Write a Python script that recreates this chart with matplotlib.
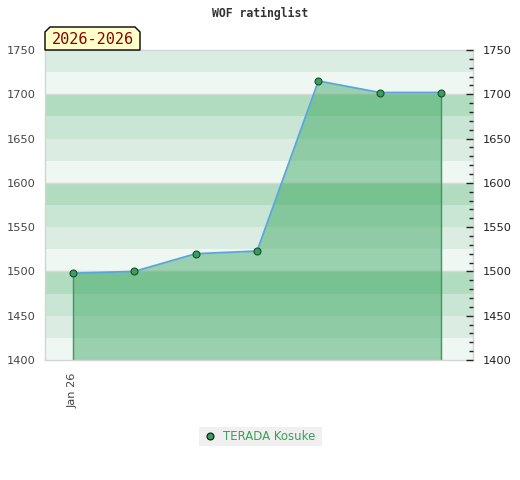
import matplotlib
matplotlib.use("Agg")
import matplotlib.pyplot as plt
from matplotlib.patches import Polygon, Rectangle
from matplotlib.ticker import MultipleLocator

# data
labels = ["Jan 26", "", "", "", "", "", ""]
x_vals = [0, 1, 2, 3, 4, 5, 6]
ratings = [1498, 1500, 1520, 1523, 1715, 1702, 1702]
player = "TERADA Kosuke"
title = "WOF ratinglist"
period = "2026-2026"
y_min, y_max = 1400, 1750

band_colors = ["#b2dcc0", "#c8e6d3", "#dbede2", "#eef7f1"]  # from top of each hundred downward

fig = plt.figure(figsize=(5.2, 4.8), dpi=100)
L, R, T, B = 45 / 520, 473 / 520, 1 - 50 / 480, 1 - 360 / 480
ax = fig.add_axes([L, B, R - L, T - B])
ax.set_xlim(-0.457, 6.52)
ax.set_ylim(y_min, y_max)

# bands
for lo in range(y_min, y_max, 25):
    idx = (3 - ((lo % 100) // 25)) % 4
    ax.axhspan(lo, lo + 25, color=band_colors[idx], lw=0, zorder=0)
for yy in range(y_min + 100, y_max, 100):
    ax.axhline(yy, color="#d8d8d8", lw=1, zorder=0.5)

fill_c = (46 / 255, 160 / 255, 87 / 255)
ax.fill_between(x_vals, ratings, y_min, color=fill_c, alpha=0.44, lw=0, zorder=1)
ax.vlines([x_vals[0], x_vals[-1]], y_min, [ratings[0], ratings[-1]], color="#3a9a5a", lw=1, zorder=2)
ax.plot(x_vals, ratings, color="#5aa5dc", lw=1.3, zorder=3)
ax.plot(x_vals, ratings, "o", ms=5, mfc="#3a9e5c", mec="#1b4d2c", mew=0.8, zorder=4)

for s in ax.spines.values():
    s.set_color("#d4d4d4")
    s.set_linewidth(1)

ax.set_yticks(range(y_min, y_max + 1, 50))
ax.tick_params(axis="y", left=False, length=0, labelsize=8.2, labelcolor="#444444", pad=7)
ax.set_xticks([x_vals[0]])
ax.set_xticklabels([labels[0]], rotation=90, fontsize=8.2, color="#444444")
ax.tick_params(axis="x", bottom=False, length=0, pad=9)

ax2 = ax.twinx()
ax2.set_ylim(y_min, y_max)
ax2.yaxis.set_major_locator(MultipleLocator(50))
ax2.yaxis.set_minor_locator(MultipleLocator(10))
ax2.tick_params(axis="y", which="major", direction="in", length=5, width=1, color="#222222",
                labelsize=8.2, labelcolor="#222222", pad=7)
ax2.tick_params(axis="y", which="minor", direction="in", length=3, width=1, color="#222222")
for s in ax2.spines.values():
    s.set_visible(False)

fig.text(0.5, 1 - 13 / 480, title, ha="center", va="center", fontsize=8.3,
         family="DejaVu Sans Mono", fontweight="bold", color="#333333")

# period label box
W, H = 520, 480
x0, x1, y0, y1, c = 45, 140, 50, 27, 5
pts = [(x0, y0), (x0, y1 + c), (x0 + c, y1), (x1 - c, y1), (x1, y1 + c), (x1, y0)]
pts = [(px / W, 1 - py / H) for px, py in pts]
fig.patches.append(Polygon(pts, closed=True, transform=fig.transFigure, fc="#ffffcc",
                           ec="black", lw=1, zorder=5))
fig.text((x0 + x1) / 2 / W, 1 - 40 / H, period, ha="center", va="center", fontsize=11,
         family="DejaVu Sans Mono", color="#8b0000", zorder=6)

# legend
fig.patches.append(Rectangle((199 / W, 1 - 446 / H), 123 / W, 19 / H, transform=fig.transFigure,
                             fc="#f0f0f0", ec="none"))
fig.lines.append(matplotlib.lines.Line2D([210 / W], [1 - 436 / H], transform=fig.transFigure,
                                         marker="o", ms=5, mfc="#3a9e5c", mec="#111111", mew=0.8))
fig.text(223 / W, 1 - 436 / H, player, ha="left", va="center", fontsize=8.5, color="#3aa05a")

fig.savefig("out.png", dpi=100)
